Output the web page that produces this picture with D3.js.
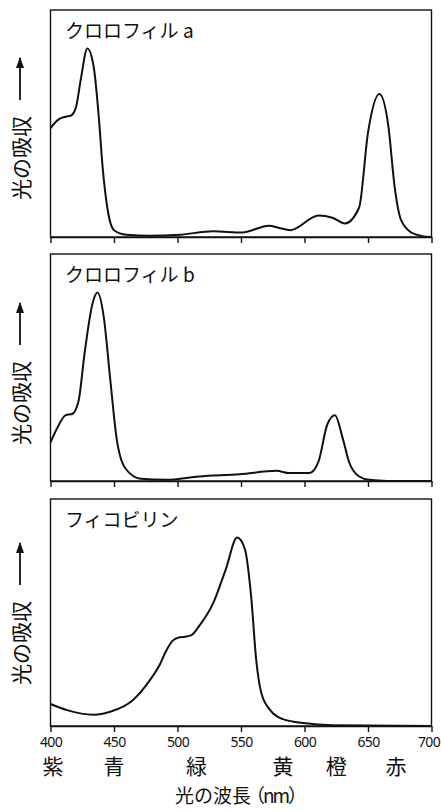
<!DOCTYPE html>
<html>
<head>
<meta charset="utf-8">
<script src="https://cdn.jsdelivr.net/npm/d3@7"></script>
<style>
  body { margin: 0; background: #fff; }
  svg { display: block; }
</style>
</head>
<body>
<div id="chart"></div>
<script>
"use strict";

// absorption spectra, [wavelength nm, relative absorbance 0..1]
var chlorophyllA = [
  [400, 0.48], [407, 0.52], [412, 0.53], [416, 0.535], [420, 0.57], [424, 0.70],
  [429, 0.83], [434, 0.75], [438, 0.53], [441, 0.31], [445, 0.12], [450, 0.03],
  [460, 0.01], [478, 0.005], [502, 0.01], [528, 0.025], [551, 0.02], [572, 0.05],
  [580, 0.04], [589, 0.03], [611, 0.095], [622, 0.085], [632, 0.06], [643, 0.13],
  [650, 0.46], [659, 0.63], [666, 0.49], [671, 0.22], [676, 0.075], [684, 0.02],
  [692, 0.005], [700, 0]
];
var chlorophyllB = [
  [400, 0.17], [405, 0.23], [412, 0.29], [417, 0.295], [422, 0.35], [427, 0.57],
  [433, 0.78], [437, 0.83], [442, 0.72], [447, 0.45], [452, 0.19], [459, 0.055],
  [471, 0.01], [491, 0.005], [517, 0.02], [549, 0.03], [578, 0.045], [588, 0.035],
  [604, 0.035], [611, 0.085], [618, 0.25], [624, 0.29], [630, 0.19], [635, 0.085],
  [643, 0.02], [651, 0.005], [665, 0], [700, 0]
];
var phycobilin = [
  [400, 0.097], [413, 0.07], [434, 0.05], [447, 0.063], [465, 0.115], [478, 0.20],
  [486, 0.27], [491, 0.33], [496, 0.375], [501, 0.39], [506, 0.393], [511, 0.40],
  [517, 0.44], [528, 0.54], [538, 0.69], [547, 0.83], [553, 0.78], [558, 0.57],
  [562, 0.29], [566, 0.145], [573, 0.07], [583, 0.03], [599, 0.013], [622, 0.003],
  [700, 0]
];

var panelNames = ["クロロフィル a", "クロロフィル b", "フィコビリン"];
var tickValues = [400, 450, 500, 550, 600, 650, 700];
var colorNames = ["紫", "青", "緑", "黄", "橙", "赤"];
var colorWaves = [402, 450, 515, 583, 625, 672];

var series = [chlorophyllA, chlorophyllB, phycobilin];

var width = 441, height = 810;
var left = 50.5, right = 431.5;
var tops = [10, 254, 499];
var labelLift = [37, 36, 41];
var panelH = 227;
var jp = "'Noto Sans CJK JP', 'Noto Sans', sans-serif";

var svg = d3.select("#chart").append("svg")
  .attr("width", width)
  .attr("height", height);

svg.append("defs").append("marker")
  .attr("id", "arrow")
  .attr("viewBox", "0 0 10 10")
  .attr("refX", 9).attr("refY", 5)
  .attr("markerWidth", 11).attr("markerHeight", 8)
  .attr("markerUnits", "userSpaceOnUse")
  .attr("orient", "auto")
  .attr("preserveAspectRatio", "none")
  .append("path")
    .attr("d", "M0,0 L10,5 L0,10 Z")
    .attr("fill", "#111");

var x = d3.scaleLinear().domain([400, 700]).range([left, right]);

series.forEach(function(data, i){
  var top = tops[i];
  var y = d3.scaleLinear().domain([0, 1]).range([top + panelH, top]);
  var g = svg.append("g");

  // frame
  g.append("rect")
    .attr("x", left).attr("y", top)
    .attr("width", right - left).attr("height", panelH)
    .attr("fill", "none")
    .attr("stroke", "#111")
    .attr("stroke-width", 1.4);

  var axis = d3.axisBottom(x).tickValues(tickValues).tickSize(6).tickSizeOuter(0);
  if(i < 2){
    axis.tickFormat("");
  }
  var ax = g.append("g")
    .attr("transform", "translate(0," + (top + panelH) + ")")
    .call(axis);
  ax.select(".domain").attr("stroke", "#111").attr("stroke-width", 1.4);
  ax.selectAll(".tick line").attr("stroke", "#111").attr("stroke-width", 1.4);
  ax.selectAll(".tick text")
    .attr("fill", "#111")
    .attr("dy", "0.85em")
    .attr("dx", function(d){ return d === 700 ? -3 : 0; })
    .style("font-family", "'Noto Sans', sans-serif")
    .style("font-size", "14px")
    .style("letter-spacing", "-0.6px");

  var line = d3.line()
    .x(function(d){ return x(d[0]); })
    .y(function(d){ return y(d[1]); })
    .curve(d3.curveMonotoneX);

  g.append("path")
    .datum(data)
    .attr("d", line)
    .attr("fill", "none")
    .attr("stroke", "#111")
    .attr("stroke-width", 2)
    .attr("stroke-linejoin", "round");

  g.append("text")
    .text(panelNames[i])
    .attr("x", 65)
    .attr("y", top + 28)
    .attr("fill", "#111")
    .style("font-family", jp)
    .style("font-size", "19px");

  // y label, rotated, with arrow
  var yl = g.append("g")
    .attr("transform", "translate(20," + (top + panelH - labelLift[i]) + ") rotate(-90)");
  yl.append("text")
    .text("光の吸収")
    .attr("x", 0).attr("y", 0)
    .attr("dominant-baseline", "central")
    .attr("fill", "#111")
    .style("font-family", jp)
    .style("font-size", "21px");
  yl.append("line")
    .attr("x1", 100).attr("y1", 0)
    .attr("x2", 142).attr("y2", 0)
    .attr("stroke", "#111")
    .attr("stroke-width", 1.8)
    .attr("marker-end", "url(#arrow)");
});

svg.append("g").selectAll("text")
  .data(colorNames)
  .enter()
    .append("text")
      .text(function(d){ return d; })
      .attr("x", function(d, i){ return x(colorWaves[i]); })
      .attr("y", 774)
      .attr("text-anchor", "middle")
      .attr("fill", "#111")
      .style("font-family", jp)
      .style("font-size", "21px");

var xt = svg.append("text")
  .attr("x", 240)
  .attr("y", 803)
  .attr("text-anchor", "middle")
  .attr("fill", "#111")
  .style("font-family", jp)
  .style("font-size", "19px");
xt.append("tspan").text("光の波長");
xt.append("tspan").text("（nm）").attr("dx", -5).style("letter-spacing", "-2px");
</script>
</body>
</html>
